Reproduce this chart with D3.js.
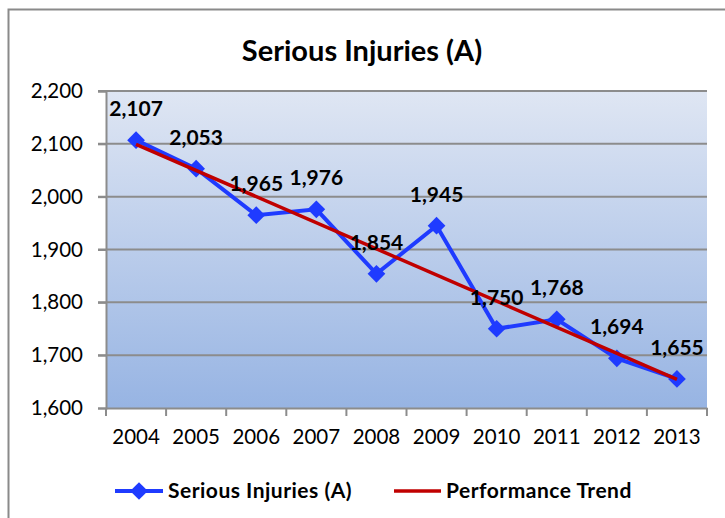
<!DOCTYPE html>
<html>
<head>
<meta charset="utf-8">
<script src="https://cdn.jsdelivr.net/npm/d3@7"></script>
<style>
  body { margin: 0; background: #fff; }
  svg text { font-family: Lato, "Open Sans", sans-serif; }
</style>
</head>
<body>
<svg id="chart" width="725" height="518"></svg>
<script>
var years = ["2004", "2005", "2006", "2007", "2008", "2009", "2010", "2011", "2012", "2013"];
var injuries = [2107, 2053, 1965, 1976, 1854, 1945, 1750, 1768, 1694, 1655];
// trend line end points (2004, 2013)
var trendYears = ["2004", "2013"];
var trendValues = [2099, 1654];
var yTicks = [1600, 1700, 1800, 1900, 2000, 2100, 2200];

var svg = d3.select("#chart");
var plot = { left: 106, right: 707, top: 91, bottom: 408 };

// outer chart frame (runs off the right / bottom edge)
svg.append("rect")
  .attr("x", 8.5).attr("y", 9.5)
  .attr("width", 740).attr("height", 540)
  .attr("fill", "#fff")
  .attr("stroke", "#8a8a8a")
  .attr("stroke-width", 2);

var defs = svg.append("defs");
var grad = defs.append("linearGradient")
  .attr("id", "bg").attr("x1", 0).attr("y1", 0).attr("x2", 0).attr("y2", 1);
grad.append("stop").attr("offset", "0%").attr("stop-color", "#dfe6f3");
grad.append("stop").attr("offset", "100%").attr("stop-color", "#97b4e3");

var x = d3.scaleBand().domain(years).range([plot.left, plot.right]);
var y = d3.scaleLinear().domain([1600, 2200]).range([plot.bottom, plot.top]);
var cx = function (yr) { return x(yr) + x.bandwidth() / 2; };

svg.append("rect")
  .attr("x", plot.left).attr("y", plot.top)
  .attr("width", plot.right - plot.left).attr("height", plot.bottom - plot.top)
  .attr("fill", "url(#bg)");

// gridlines
svg.append("g").selectAll("line")
  .data(yTicks.slice(1))
  .enter().append("line")
  .attr("x1", plot.left - 8).attr("x2", plot.right)
  .attr("y1", function (d) { return y(d); })
  .attr("y2", function (d) { return y(d); })
  .attr("stroke", "#8c8c8c").attr("stroke-width", 2);

// y axis
var yAxis = svg.append("g")
  .attr("transform", "translate(" + plot.left + ",0)")
  .call(d3.axisLeft(y).tickValues(yTicks).tickSize(8).tickPadding(15).tickFormat(d3.format(",")));
yAxis.select(".domain").attr("stroke", "#8c8c8c").attr("stroke-width", 2);
yAxis.selectAll(".tick line").attr("stroke", "#8c8c8c").attr("stroke-width", 2);
yAxis.selectAll("text").attr("font-size", 20.5).attr("fill", "#000");

// x axis
var xAxis = svg.append("g")
  .attr("transform", "translate(0," + plot.bottom + ")")
  .call(d3.axisBottom(x).tickSize(0).tickPadding(21));
xAxis.select(".domain").attr("stroke", "#8c8c8c").attr("stroke-width", 2);
xAxis.selectAll("text").attr("font-size", 20.5).attr("fill", "#000");
xAxis.selectAll(".tick line").remove();
svg.append("g").selectAll("line")
  .data(years.concat(["end"]))
  .enter().append("line")
  .attr("x1", function (d, i) { return plot.left + i * x.bandwidth(); })
  .attr("x2", function (d, i) { return plot.left + i * x.bandwidth(); })
  .attr("y1", plot.bottom).attr("y2", plot.bottom + 8)
  .attr("stroke", "#8c8c8c").attr("stroke-width", 2);

// series line
var line = d3.line()
  .x(function (d, i) { return cx(years[i]); })
  .y(function (d) { return y(d); });
svg.append("path")
  .datum(injuries)
  .attr("d", line)
  .attr("fill", "none")
  .attr("stroke", "#1f3bff")
  .attr("stroke-width", 4);

var diamond = d3.symbol().type(d3.symbolDiamond2).size(200);
svg.append("g").selectAll("path")
  .data(injuries)
  .enter().append("path")
  .attr("d", diamond)
  .attr("transform", function (d, i) { return "translate(" + cx(years[i]) + "," + y(d) + ")"; })
  .attr("fill", "#1f3bff");

// trend line
svg.append("path")
  .datum(trendValues)
  .attr("d", d3.line()
    .x(function (d, i) { return cx(trendYears[i]); })
    .y(function (d) { return y(d); }))
  .attr("stroke", "#c00000")
  .attr("stroke-width", 3.5)
  .attr("fill", "none");

// data labels
svg.append("g").selectAll("text")
  .data(injuries)
  .enter().append("text")
  .attr("x", function (d, i) { return cx(years[i]); })
  .attr("y", function (d) { return y(d) - 24; })
  .attr("text-anchor", "middle")
  .attr("font-size", 21)
  .attr("font-weight", "bold")
  .attr("fill", "#000")
  .text(function (d) { return d3.format(",")(d); });

// title
svg.append("text")
  .attr("x", 362).attr("y", 61)
  .attr("text-anchor", "middle")
  .attr("font-size", 29)
  .attr("font-weight", "bold")
  .text("Serious Injuries (A)");

// legend
var lg = svg.append("g").attr("transform", "translate(0,491)");
lg.append("line").attr("x1", 115).attr("x2", 163).attr("y1", 0).attr("y2", 0)
  .attr("stroke", "#1f3bff").attr("stroke-width", 4);
lg.append("path").attr("d", diamond).attr("transform", "translate(139,0)").attr("fill", "#1f3bff");
lg.append("text").attr("x", 168).attr("y", 7).attr("font-size", 21).attr("font-weight", "bold")
  .attr("letter-spacing", 0.5)
  .text("Serious Injuries (A)");
lg.append("line").attr("x1", 394).attr("x2", 441).attr("y1", 0).attr("y2", 0)
  .attr("stroke", "#c00000").attr("stroke-width", 3.5);
lg.append("text").attr("x", 446).attr("y", 7).attr("font-size", 21).attr("font-weight", "bold")
  .attr("letter-spacing", 0.5)
  .text("Performance Trend");
</script>
</body>
</html>
